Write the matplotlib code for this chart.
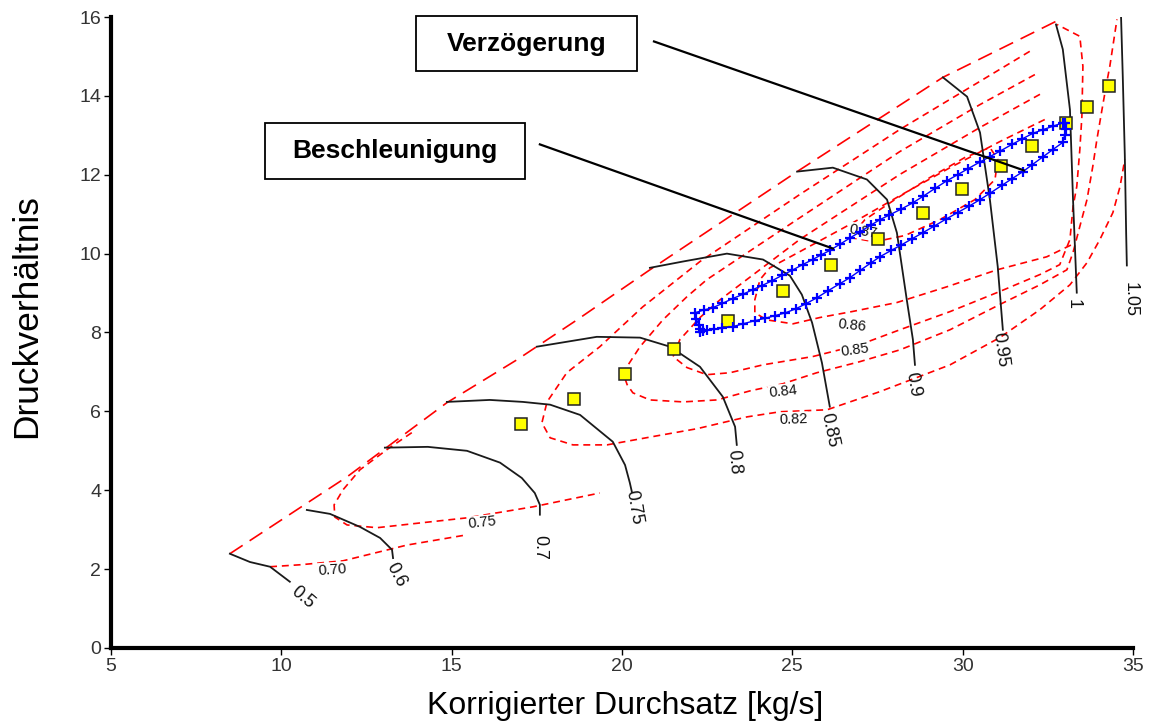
"""Verdichterkennfeld mit Beschleunigungs-/Verzoegerungs-Trajektorie."""
import matplotlib
matplotlib.use("Agg")
import matplotlib.pyplot as plt
from matplotlib.patches import Rectangle

# ---- speed lines (reduced speed), x = corrected flow [kg/s], y = pressure ratio
N050_X = [8.49, 9.08, 9.67, 10.25]
N050_Y = [2.39, 2.18, 2.06, 1.68]
N060_X = [10.75, 11.43, 12.31, 12.90, 13.25, 13.28]
N060_Y = [3.50, 3.40, 3.07, 2.79, 2.49, 2.28]
N070_X = [13.04, 14.30, 15.45, 16.42, 17.06, 17.44, 17.59, 17.59]
N070_Y = [5.08, 5.10, 5.00, 4.70, 4.31, 3.93, 3.63, 3.38]
N075_X = [14.86, 16.12, 17.09, 17.89, 18.77, 19.73, 20.09, 20.23, 20.29]
N075_Y = [6.24, 6.29, 6.24, 6.17, 5.91, 5.23, 4.64, 4.19, 3.96]
N080_X = [17.50, 19.26, 20.53, 21.41, 22.29, 22.96, 23.32, 23.37]
N080_Y = [7.64, 7.89, 7.87, 7.64, 7.13, 6.37, 5.61, 5.15]
N085_X = [20.82, 21.79, 23.08, 24.14, 24.93, 25.28, 25.58, 25.87, 26.10]
N085_Y = [9.64, 9.80, 10.00, 9.85, 9.44, 8.96, 8.25, 7.23, 6.12]
N090_X = [25.14, 26.19, 27.19, 27.78, 28.07, 28.36, 28.54, 28.60]
N090_Y = [12.08, 12.18, 11.88, 11.37, 10.53, 8.83, 7.82, 7.18]
N095_X = [29.42, 30.13, 30.51, 30.80, 31.03, 31.18]
N095_Y = [14.47, 13.98, 13.07, 11.37, 9.67, 8.07]
N100_X = [32.74, 32.94, 33.15, 33.24, 33.35]
N100_Y = [15.81, 15.18, 13.65, 11.37, 9.01]
N105_X = [34.65, 34.70, 34.76, 34.80, 34.82]
N105_Y = [16.00, 14.50, 12.50, 10.50, 9.70]

SPEED_LABELS = ["0.5", "0.6", "0.7", "0.75", "0.8", "0.85", "0.9", "0.95", "1", "1.05"]
SPEED_LAB_X = [10.64, 13.36, 17.59, 20.35, 23.27, 26.10, 28.54, 31.09, 33.24, 34.91]
SPEED_LAB_Y = [1.29, 1.85, 2.54, 3.57, 4.72, 5.53, 6.68, 7.56, 8.72, 8.83]
SPEED_LAB_ROT = [-40, -62, -90, -80, -85, -78, -80, -82, -90, -90]

# ---- surge line
SURGE_X = [8.49, 11.93, 14.86, 16.92, 18.68, 20.82, 25.14, 29.42, 32.74]
SURGE_Y = [2.39, 4.34, 6.22, 7.31, 8.32, 9.59, 12.08, 14.47, 15.89]

# ---- efficiency contours
ETA070_X = [9.67, 10.55, 11.81, 13.69, 15.45]
ETA070_Y = [2.06, 2.11, 2.21, 2.61, 2.87]
ETA075_X = [13.83, 13.10, 12.31, 11.81, 11.55, 11.57, 11.93, 12.81, 14.07, 15.45, 17.39, 19.35]
ETA075_Y = [5.46, 5.03, 4.52, 4.01, 3.63, 3.32, 3.12, 3.05, 3.17, 3.30, 3.58, 3.93]
ETA082_X = [31.97, 30.51, 28.16, 25.22, 22.29, 20.61, 19.35, 18.38, 17.80, 17.65, 17.89,
            18.56, 19.56, 21.03, 22.20, 23.67, 24.64, 26.02, 27.57, 29.63, 31.09, 32.27,
            33.15, 33.65, 34.03, 34.41, 34.62, 34.76]
ETA082_Y = [15.13, 14.37, 13.15, 11.50, 9.80, 8.65, 7.64, 6.98, 6.24, 5.71, 5.33,
            5.15, 5.15, 5.38, 5.56, 5.86, 5.99, 6.04, 6.50, 7.18, 7.87, 8.58,
            9.21, 9.77, 10.36, 11.04, 11.70, 12.39]
ETA084_X = [32.12, 30.51, 28.16, 25.22, 22.49, 21.91, 21.20, 20.53, 20.03, 20.15, 20.32,
            20.82, 21.79, 22.79, 23.76, 24.72, 25.72, 26.98, 28.16, 29.63, 31.09, 32.27,
            33.06, 33.24, 33.44, 33.65, 33.82, 33.94, 34.09, 34.23, 34.32, 34.53]
ETA084_Y = [14.54, 13.78, 12.59, 10.91, 9.34, 8.91, 8.32, 7.64, 6.98, 6.68, 6.47,
            6.29, 6.24, 6.29, 6.52, 6.70, 6.98, 7.26, 7.56, 8.07, 8.71, 9.21,
            9.59, 10.03, 10.69, 11.37, 12.21, 12.89, 13.65, 14.34, 14.75, 15.94]
ETA085_X = [32.27, 30.51, 28.16, 25.22, 22.88, 22.29, 21.70, 21.50, 21.91, 22.49, 23.17,
            24.14, 25.60, 26.98, 28.16, 29.63, 31.09, 32.27, 32.85, 33.15, 33.24, 33.35,
            33.44, 33.50, 33.53, 33.44, 32.77]
ETA085_Y = [14.04, 13.20, 12.01, 10.36, 8.83, 8.38, 7.82, 7.39, 7.11, 6.93, 6.98,
            7.18, 7.39, 7.69, 8.07, 8.53, 9.04, 9.47, 9.72, 10.36, 11.19, 11.70,
            12.64, 13.48, 14.75, 15.51, 15.81]
ETA086_X = [32.41, 31.09, 29.63, 28.16, 26.69, 25.22, 24.34, 24.05, 23.90, 23.90, 24.25,
            25.02, 25.81, 26.75, 28.07, 29.54, 31.01, 32.47, 33.21]
ETA086_Y = [13.40, 12.84, 12.18, 11.47, 10.74, 10.05, 9.64, 9.34, 8.83, 8.50, 8.32,
            8.22, 8.38, 8.53, 8.76, 9.16, 9.59, 9.92, 10.23]
ETA087_X = [26.69, 27.42, 28.31, 29.33, 30.36, 30.95, 31.03, 30.80, 30.07, 29.04, 28.01, 27.13, 26.69]
ETA087_Y = [10.41, 10.30, 10.46, 10.86, 11.37, 11.88, 12.39, 12.69, 12.44, 11.93, 11.37, 10.86, 10.41]

ETA_LABELS = ["0.70", "0.75", "0.82", "0.84", "0.85", "0.86", "0.87"]
ETA_LAB_X = [11.49, 15.89, 25.02, 24.72, 26.84, 26.75, 27.07]
ETA_LAB_Y = [1.98, 3.17, 5.79, 6.50, 7.56, 8.17, 10.56]
ETA_LAB_ROT = [4, 6, 2, 6, 8, -6, -10]

# ---- steady-state operating points
OP_X = [17.03, 18.59, 20.09, 21.52, 23.11, 24.72, 26.13, 27.51, 28.83, 29.98,
        31.12, 32.03, 33.03, 33.65, 34.29]
OP_Y = [5.69, 6.32, 6.95, 7.59, 8.30, 9.04, 9.72, 10.36, 11.04, 11.65,
        12.21, 12.74, 13.30, 13.73, 14.24]

# ---- transient: acceleration (upper branch) and deceleration (lower branch)
ACC_X = [22.30, 22.25, 22.18, 22.14, 22.40, 22.67, 22.95, 23.25, 23.55, 23.85, 24.11,
         24.40, 24.70, 25.00, 25.30, 25.60, 25.85, 26.10, 26.40, 26.70, 27.00, 27.30,
         27.57, 27.85, 28.20, 28.54, 28.85, 29.20, 29.54, 29.85, 30.15, 30.50, 30.80,
         31.10, 31.45, 31.75, 32.06, 32.35, 32.65, 32.94]
ACC_Y = [8.10, 8.20, 8.35, 8.50, 8.57, 8.63, 8.74, 8.86, 8.97, 9.09, 9.19,
         9.31, 9.45, 9.58, 9.72, 9.85, 9.97, 10.08, 10.24, 10.40, 10.56, 10.72,
         10.86, 10.98, 11.13, 11.29, 11.46, 11.66, 11.85, 12.00, 12.15, 12.32, 12.46,
         12.60, 12.77, 12.91, 13.05, 13.14, 13.23, 13.32]
DEC_X = [33.00, 33.02, 33.00, 32.94, 32.65, 32.35, 32.05, 31.77, 31.45, 31.15, 30.80,
         30.51, 30.20, 29.85, 29.50, 29.15, 28.83, 28.50, 28.20, 27.90, 27.57, 27.30,
         27.00, 26.69, 26.40, 26.05, 25.72, 25.40, 25.10, 24.80, 24.50, 24.20, 23.90,
         23.55, 23.26, 22.95, 22.70, 22.50, 22.38, 22.30]
DEC_Y = [13.32, 13.17, 13.02, 12.82, 12.64, 12.45, 12.26, 12.08, 11.90, 11.73, 11.53,
         11.37, 11.21, 11.04, 10.87, 10.69, 10.53, 10.37, 10.22, 10.08, 9.92, 9.76,
         9.58, 9.39, 9.24, 9.06, 8.88, 8.73, 8.60, 8.50, 8.43, 8.36, 8.30,
         8.22, 8.15, 8.11, 8.08, 8.06, 8.04, 8.02]

# ---- annotation boxes: (label, x0, y0, width, height) and leader lines
BOX_VERZ = ("Verzögerung", 13.95, 14.62, 6.49, 1.40)
BOX_BESCH = ("Beschleunigung", 9.52, 11.90, 7.63, 1.42)
LEAD_VERZ_X, LEAD_VERZ_Y = [20.94, 31.80], [15.38, 12.11]
LEAD_BESCH_X, LEAD_BESCH_Y = [17.59, 26.19], [12.77, 10.13]

RED = "#ff0000"
BLUE = "#0000ff"


def main():
    plt.rcParams.update({"font.family": ["Liberation Sans", "DejaVu Sans"],
                         "lines.scale_dashes": False})
    fig = plt.figure(figsize=(11.5, 7.24), dpi=100)
    ax = fig.add_axes([0.0965, 0.105, 0.8887, 0.8715])

    # efficiency contours + surge line
    contours = [(ETA070_X, ETA070_Y), (ETA075_X, ETA075_Y), (ETA082_X, ETA082_Y),
                (ETA084_X, ETA084_Y), (ETA085_X, ETA085_Y), (ETA086_X, ETA086_Y),
                (ETA087_X, ETA087_Y)]
    for cx, cy in contours:
        ax.plot(cx, cy, color=RED, lw=1.2, ls=(0, (5, 3.5)), zorder=2)
    ax.plot(SURGE_X, SURGE_Y, color=RED, lw=1.2, ls=(0, (11, 6)), zorder=2)
    for s, x, y, r in zip(ETA_LABELS, ETA_LAB_X, ETA_LAB_Y, ETA_LAB_ROT):
        ax.text(x, y, s, fontsize=10.5, rotation=r, ha="center", va="center",
                color="#111", zorder=3,
                bbox=dict(boxstyle="square,pad=0.05", fc="white", ec="none"))

    # speed lines
    speeds = [(N050_X, N050_Y), (N060_X, N060_Y), (N070_X, N070_Y), (N075_X, N075_Y),
              (N080_X, N080_Y), (N085_X, N085_Y), (N090_X, N090_Y), (N095_X, N095_Y),
              (N100_X, N100_Y), (N105_X, N105_Y)]
    for sx, sy in speeds:
        ax.plot(sx, sy, color="#1a1a1a", lw=1.3, zorder=3)
    for s, x, y, r in zip(SPEED_LABELS, SPEED_LAB_X, SPEED_LAB_Y, SPEED_LAB_ROT):
        ax.text(x, y, s, fontsize=13, rotation=r, ha="center", va="center",
                color="#111", zorder=3)

    # operating points and transient (dense cross trace)
    ax.plot(OP_X, OP_Y, "s", ms=8.5, mfc="#ffff00", mec="#222", mew=1.1,
            ls="none", zorder=4)
    for tx, ty in ((ACC_X, ACC_Y), (DEC_X, DEC_Y)):
        ax.plot(tx, ty, color=BLUE, lw=1.0, zorder=5)
        ax.plot(tx, ty, "+", color=BLUE, ms=7, mew=1.6, ls="none", zorder=5)

    # annotations
    for lab, x0, y0, w, h in (BOX_VERZ, BOX_BESCH):
        ax.add_patch(Rectangle((x0, y0), w, h, fc="white", ec="black", lw=1.3,
                               clip_on=False, zorder=7))
        ax.text(x0 + w / 2, y0 + h / 2, lab, fontsize=19, fontweight="bold",
                ha="center", va="center", zorder=8, clip_on=False)
    ax.plot(LEAD_VERZ_X, LEAD_VERZ_Y, color="black", lw=1.6, zorder=6, clip_on=False)
    ax.plot(LEAD_BESCH_X, LEAD_BESCH_Y, color="black", lw=1.6, zorder=6, clip_on=False)

    # axes styling
    ax.set_xlim(5, 35)
    ax.set_ylim(0, 16)
    ax.set_xticks(range(5, 36, 5))
    ax.set_yticks(range(0, 17, 2))
    for side in ("top", "right"):
        ax.spines[side].set_visible(False)
    for side in ("left", "bottom"):
        ax.spines[side].set_linewidth(3.0)
    ax.tick_params(direction="out", length=5, width=1, labelsize=14,
                   labelcolor="#333", pad=2)
    ax.set_xlabel("Korrigierter Durchsatz [kg/s]", fontsize=23)
    ax.set_ylabel("Druckverhältnis", fontsize=25.5)
    ax.xaxis.set_label_coords(0.503, -0.068)
    ax.yaxis.set_label_coords(-0.066, 0.526)

    fig.savefig("out.png", dpi=100)
    plt.close(fig)


if __name__ == "__main__":
    main()
